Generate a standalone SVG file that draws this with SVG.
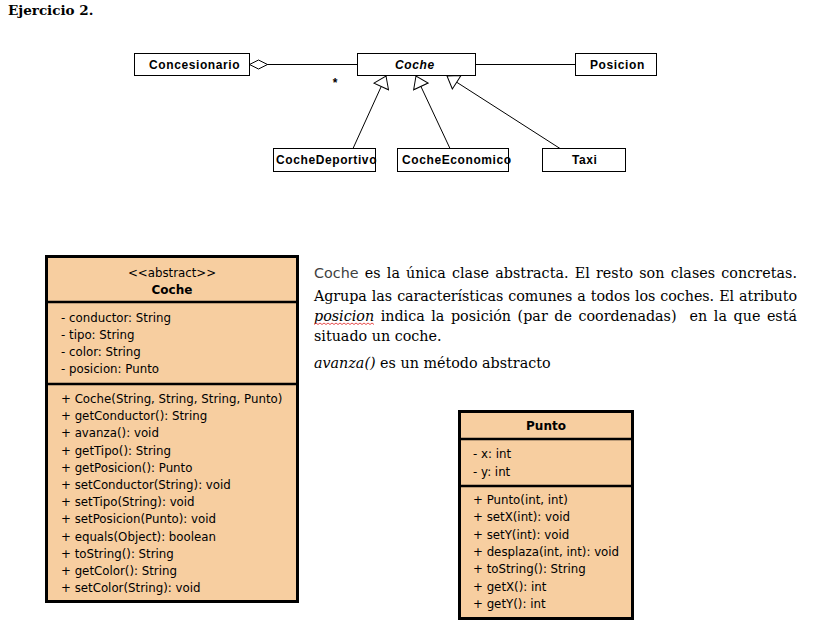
<svg xmlns="http://www.w3.org/2000/svg" width="818" height="623" viewBox="0 0 818 623">
<style>
.bg{fill:#fff}
.box{fill:#fff;stroke:#000;stroke-width:1}
.lbl{font-family:"Liberation Sans",Arial,sans-serif;font-weight:bold;font-size:12px;letter-spacing:0.6px;fill:#000}
.conn{stroke:#000;stroke-width:1;fill:none}
.cls{fill:#F7CEA0;stroke:#000;stroke-width:3}
.sep{stroke:#000;stroke-width:2.5}
.uml{font-family:"DejaVu Sans",Verdana,sans-serif;font-size:11.8px;fill:#000}
.umlb{font-family:"DejaVu Sans",Verdana,sans-serif;font-size:12px;font-weight:bold;fill:#000}
.par{font-family:"DejaVu Serif","Liberation Serif",serif;font-size:14.3px;fill:#000}
</style>
<defs>
<marker id="gen" markerUnits="userSpaceOnUse" viewBox="-1 -9 14 18" markerWidth="14" markerHeight="18" refX="11.5" refY="0" orient="auto">
<path d="M0,-8 L11.5,0 L0,8 Z" fill="#fff" stroke="#000" stroke-width="1"/>
</marker>
<marker id="agg" markerUnits="userSpaceOnUse" viewBox="-1 -6 20 12" markerWidth="20" markerHeight="12" refX="0" refY="0" orient="auto">
<path d="M0,0 L9,-4.5 L18,0 L9,4.5 Z" fill="#fff" stroke="#000" stroke-width="1"/>
</marker>
</defs>
<rect class="bg" x="0" y="0" width="818" height="623"/>
<text x="8" y="15" style="font-family:'DejaVu Serif','Liberation Serif',serif;font-size:13.5px;font-weight:bold">Ejercicio 2.</text>

<g id="connectors">
<line class="conn" x1="249.5" y1="64.5" x2="357.5" y2="64.5" marker-start="url(#agg)"/>
<line class="conn" x1="475.5" y1="64.5" x2="575.5" y2="64.5"/>
<line class="conn" x1="353" y1="148.5" x2="386" y2="76" marker-end="url(#gen)"/>
<line class="conn" x1="450" y1="148.5" x2="416" y2="76" marker-end="url(#gen)"/>
<line class="conn" x1="560" y1="148.5" x2="447" y2="76" marker-end="url(#gen)"/>
<text x="335" y="87" text-anchor="middle" style="font-family:'Liberation Sans',Arial,sans-serif;font-size:12px;font-weight:bold">*</text>
</g>

<g id="concesionario">
<rect class="box" x="134.5" y="53.5" width="115" height="22"/>
<text class="lbl" x="149" y="68.5">Concesionario</text>
</g>
<g id="coche">
<rect class="box" x="357.5" y="53.5" width="118" height="22"/>
<text class="lbl" x="395" y="68.5" font-style="italic">Coche</text>
</g>
<g id="posicion">
<rect class="box" x="575.5" y="53.5" width="81" height="22"/>
<text class="lbl" x="590" y="68.5">Posicion</text>
</g>
<g id="cochedeportivo">
<rect class="box" x="273.5" y="148.5" width="102" height="23"/>
<text class="lbl" x="276" y="163.5">CocheDeportivo</text>
</g>
<g id="cocheeconomico">
<rect class="box" x="397.5" y="148.5" width="111" height="23"/>
<text class="lbl" x="402" y="163.5">CocheEconomico</text>
</g>
<g id="taxi">
<rect class="box" x="542.5" y="148.5" width="83" height="23"/>
<text class="lbl" x="572" y="163.5">Taxi</text>
</g>

<g id="coche-class">
<rect class="cls" x="46.5" y="256.5" width="251" height="345"/>
<line class="sep" x1="46" y1="302" x2="298" y2="302"/>
<line class="sep" x1="46" y1="384" x2="298" y2="384"/>
<text class="uml" x="172" y="277" text-anchor="middle">&lt;&lt;abstract&gt;&gt;</text>
<text class="umlb" x="172" y="293.5" text-anchor="middle">Coche</text>
<text class="uml" x="61" y="322">- conductor: String</text>
<text class="uml" x="61" y="339">- tipo: String</text>
<text class="uml" x="61" y="356">- color: String</text>
<text class="uml" x="61" y="373">- posicion: Punto</text>
<text class="uml" x="61" y="403">+ Coche(String, String, String, Punto)</text>
<text class="uml" x="61" y="420.2">+ getConductor(): String</text>
<text class="uml" x="61" y="437.4">+ avanza(): void</text>
<text class="uml" x="61" y="454.6">+ getTipo(): String</text>
<text class="uml" x="61" y="471.8">+ getPosicion(): Punto</text>
<text class="uml" x="61" y="489">+ setConductor(String): void</text>
<text class="uml" x="61" y="506.2">+ setTipo(String): void</text>
<text class="uml" x="61" y="523.4">+ setPosicion(Punto): void</text>
<text class="uml" x="61" y="540.6">+ equals(Object): boolean</text>
<text class="uml" x="61" y="557.8">+ toString(): String</text>
<text class="uml" x="61" y="575">+ getColor(): String</text>
<text class="uml" x="61" y="592.2">+ setColor(String): void</text>
</g>

<g id="punto-class">
<rect class="cls" x="459.5" y="411.5" width="173" height="207"/>
<line class="sep" x1="459" y1="439" x2="633" y2="439"/>
<line class="sep" x1="459" y1="486" x2="633" y2="486"/>
<text class="umlb" x="546" y="429.5" text-anchor="middle">Punto</text>
<text class="uml" x="473" y="458">- x: int</text>
<text class="uml" x="473" y="475.5">- y: int</text>
<text class="uml" x="473" y="504">+ Punto(int, int)</text>
<text class="uml" x="473" y="521.3">+ setX(int): void</text>
<text class="uml" x="473" y="538.6">+ setY(int): void</text>
<text class="uml" x="473" y="555.9">+ desplaza(int, int): void</text>
<text class="uml" x="473" y="573.2">+ toString(): String</text>
<text class="uml" x="473" y="590.5">+ getX(): int</text>
<text class="uml" x="473" y="607.8">+ getY(): int</text>
</g>

<g id="description">
<text class="par" x="314" y="278" textLength="483" lengthAdjust="spacing" word-spacing="1.5"><tspan style="font-family:'DejaVu Sans',Verdana,sans-serif;fill:#404040">Coche</tspan> es la única clase abstracta. El resto son clases concretas.</text>
<text class="par" x="314" y="301" textLength="483" lengthAdjust="spacing" word-spacing="0.6">Agrupa las características comunes a todos los coches. El atributo</text>
<text class="par" x="314" y="321" textLength="483" lengthAdjust="spacing" word-spacing="2" style="white-space:pre"><tspan font-style="italic">posicion</tspan> indica la posición (par de coordenadas)  en la que está</text>
<path d="M314,324.5 l2,-1.5 l2,1.5 l2,-1.5 l2,1.5 l2,-1.5 l2,1.5 l2,-1.5 l2,1.5 l2,-1.5 l2,1.5 l2,-1.5 l2,1.5 l2,-1.5 l2,1.5 l2,-1.5 l2,1.5 l2,-1.5 l2,1.5 l2,-1.5 l2,1.5 l2,-1.5 l2,1.5 l2,-1.5 l2,1.5 l2,-1.5 l2,1.5 l2,-1.5 l2,1.5 l2,-1.5 l2,1.5" fill="none" stroke="#e02020" stroke-width="0.8"/>
<text class="par" x="314" y="340.5">situado un coche.</text>
<text class="par" x="314" y="367.5"><tspan font-style="italic">avanza()</tspan> es un método abstracto</text>
</g>
</svg>
